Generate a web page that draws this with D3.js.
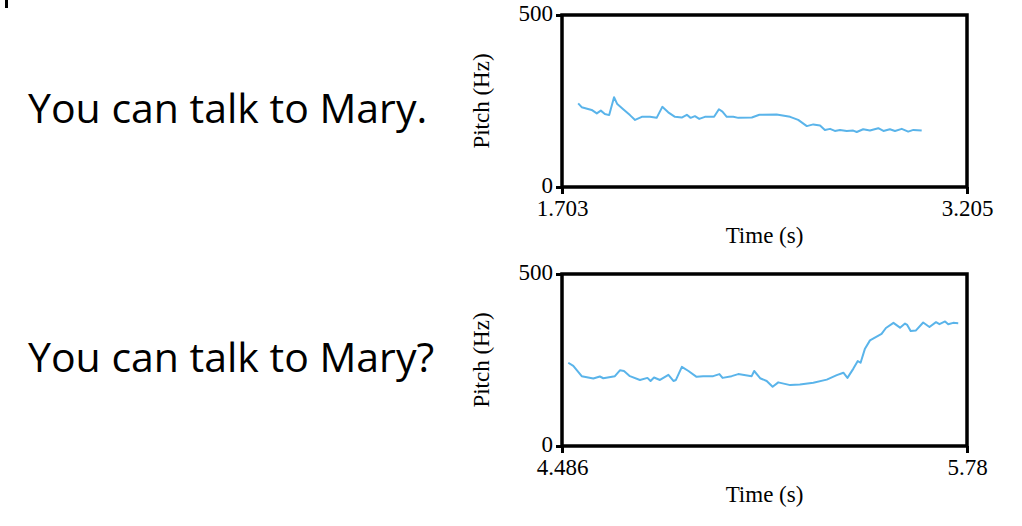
<!DOCTYPE html>
<html>
<head>
<meta charset="utf-8">
<script src="https://cdn.jsdelivr.net/npm/d3@7"></script>
<style>
  html, body { margin: 0; padding: 0; background: #fff; }
  svg { display: block; }
</style>
</head>
<body>
<svg id="chart" width="1022" height="526"></svg>
<script>
// ---- data ----
const sentences = ["You can talk to Mary.", "You can talk to Mary?"];
const yTicks = [0, 500];
const xDomains = [[1.703, 3.205], [4.486, 5.78]];
const xTickLabels = [["1.703", "3.205"], ["4.486", "5.78"]];
const yLabel = "Pitch (Hz)";
const xLabel = "Time (s)";

const stmtTime = [1.763,1.776,1.813,1.832,1.847,1.862,1.878,1.896,1.908,1.930,1.955,1.974,1.999,2.029,2.054,2.075,2.097,2.122,2.147,2.166,2.180,2.196,2.212,2.233,2.267,2.285,2.298,2.314,2.338,2.357,2.407,2.435,2.499,2.549,2.579,2.611,2.635,2.660,2.678,2.697,2.715,2.734,2.759,2.783,2.796,2.820,2.845,2.876,2.895,2.919,2.938,2.963,2.987,3.006,3.037];
const stmtPitch = [243,232,224,214,222,212,209,261,241,226,209,195,204,204,201,233,217,204,202,210,201,206,198,204,204,226,219,204,204,201,202,210,211,204,195,177,182,179,166,169,163,166,163,164,160,168,164,171,163,168,163,169,161,166,164];

const questTime = [4.506,4.522,4.549,4.586,4.607,4.618,4.655,4.671,4.684,4.703,4.735,4.759,4.769,4.780,4.799,4.826,4.842,4.850,4.869,4.890,4.916,4.937,4.969,4.989,4.999,5.028,5.049,5.092,5.100,5.119,5.140,5.159,5.177,5.215,5.246,5.289,5.332,5.364,5.385,5.398,5.417,5.431,5.440,5.454,5.470,5.507,5.521,5.545,5.566,5.582,5.589,5.600,5.617,5.640,5.660,5.681,5.692,5.710,5.720,5.736,5.752];
const questPitch = [242,233,203,196,202,197,203,220,218,203,192,198,189,199,192,207,189,192,230,218,201,203,203,209,198,203,209,203,218,197,189,172,185,177,179,184,193,206,213,198,225,247,242,283,307,326,343,358,344,356,352,334,336,359,346,360,354,362,354,358,357];

const series = [
  { time: stmtTime, pitch: stmtPitch },
  { time: questTime, pitch: questPitch }
];

// ---- layout ----
const svg = d3.select("#chart");
const panels = [
  { top: 15, bottom: 187, textY: 123 },
  { top: 274, bottom: 446, textY: 372 }
];
const left = 562, right = 967;
const serif = "'Liberation Serif', 'Times New Roman', serif";
const lineColor = "#5AB4EA";
const fs = 23;

// small mark at top-left corner
svg.append("rect").attr("x", 5).attr("y", 0).attr("width", 3).attr("height", 8).attr("fill", "#000");

panels.forEach((p, i) => {
  const x = d3.scaleLinear().domain(xDomains[i]).range([left, right]);
  const y = d3.scaleLinear().domain([0, 500]).range([p.bottom, p.top]);

  // sentence
  svg.append("text")
    .attr("x", 28).attr("y", p.textY)
    .attr("font-family", "'Open Sans', 'Noto Sans', sans-serif")
    .attr("font-size", 41)
    .attr("fill", "#000")
    .text(sentences[i]);

  // y axis
  const yAxis = d3.axisLeft(y).tickValues(yTicks).tickFormat(d3.format("d")).tickSize(6).tickPadding(3);
  const gy = svg.append("g").attr("transform", `translate(${left},0)`).call(yAxis);
  gy.select(".domain").remove();
  gy.selectAll(".tick line").attr("stroke", "#000").attr("stroke-width", 3);
  gy.selectAll(".tick text").attr("font-family", serif).attr("font-size", fs).attr("fill", "#000").attr("dy", "0.25em");

  // x axis
  const xAxis = d3.axisBottom(x).tickValues(xDomains[i]).tickFormat((d, k) => xTickLabels[i][k]).tickSize(7).tickPadding(6);
  const gx = svg.append("g").attr("transform", `translate(0,${p.bottom})`).call(xAxis);
  gx.select(".domain").remove();
  gx.selectAll(".tick line").attr("stroke", "#000").attr("stroke-width", 3);
  gx.selectAll(".tick text").attr("font-family", serif).attr("font-size", fs).attr("fill", "#000");

  // frame
  svg.append("rect")
    .attr("x", left).attr("y", p.top)
    .attr("width", right - left).attr("height", p.bottom - p.top)
    .attr("fill", "none").attr("stroke", "#000").attr("stroke-width", 3.5);

  // pitch line
  const pts = series[i].time.map((t, k) => [t, series[i].pitch[k]]);
  svg.append("path")
    .datum(pts)
    .attr("fill", "none")
    .attr("stroke", lineColor)
    .attr("stroke-width", 2)
    .attr("stroke-linejoin", "round")
    .attr("d", d3.line().x(d => x(d[0])).y(d => y(d[1])));

  // axis titles
  svg.append("text")
    .attr("x", (left + right) / 2).attr("y", p.bottom + 56)
    .attr("text-anchor", "middle")
    .attr("font-family", serif).attr("font-size", fs).attr("fill", "#000")
    .text(xLabel);
  svg.append("text")
    .attr("transform", `translate(489,${(p.top + p.bottom) / 2}) rotate(-90)`)
    .attr("text-anchor", "middle")
    .attr("font-family", serif).attr("font-size", fs).attr("fill", "#000")
    .text(yLabel);
});
</script>
</body>
</html>
